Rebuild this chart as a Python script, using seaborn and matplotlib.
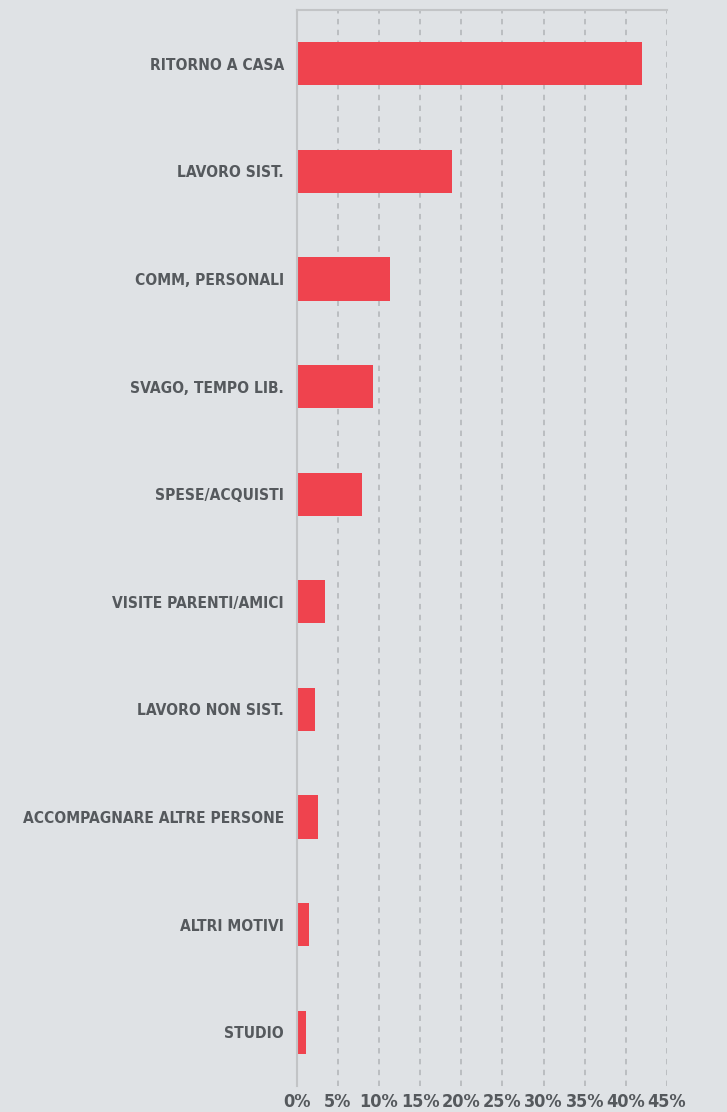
import pandas as pd
import seaborn as sns
import matplotlib.pyplot as plt
from matplotlib.ticker import FuncFormatter

motivi = ['RITORNO A CASA', 'LAVORO SIST.', 'COMM, PERSONALI', 'SVAGO, TEMPO LIB.',
          'SPESE/ACQUISTI', 'VISITE PARENTI/AMICI', 'LAVORO NON SIST.',
          'ACCOMPAGNARE ALTRE PERSONE', 'ALTRI MOTIVI', 'STUDIO']
percentuali = [41.9, 18.9, 11.4, 9.3, 8.0, 3.4, 2.2, 2.6, 1.5, 1.2]
xticks = [0, 5, 10, 15, 20, 25, 30, 35, 40, 45]

df = pd.DataFrame({'motivo': motivi, 'perc': percentuali})

bg = '#dfe2e5'
sns.set_style('white')
plt.rcParams['font.family'] = ['DejaVu Sans']
plt.rcParams['font.stretch'] = 'condensed'

fig = plt.figure(figsize=(7.27, 11.12), dpi=100, facecolor=bg)
ax = fig.add_axes([0.408, 0.0234, 0.5095, 0.9676])
ax.set_facecolor(bg)

sns.barplot(data=df, x='perc', y='motivo', orient='h', color='#ef434e',
            width=0.4, saturation=1, linewidth=0, ax=ax)

ax.set_xlim(0, 45)
ax.set_xticks(xticks)
ax.xaxis.set_major_formatter(FuncFormatter(lambda v, p: f'{v:.0f}%'))
for x in xticks[1:]:
    ax.axvline(x, color='#b8bbbe', lw=1.3, ls=(0, (3, 3)), zorder=0)

for s in ['right', 'bottom']:
    ax.spines[s].set_visible(False)
for s in ['left', 'top']:
    ax.spines[s].set_color('#c2c4c6')
    ax.spines[s].set_linewidth(1.5)

ax.tick_params(axis='y', length=0, colors='#55595d', labelsize=11.2, pad=9)
ax.tick_params(axis='x', length=0, colors='#55595d', labelsize=13, pad=5)
for lab in ax.get_xticklabels() + ax.get_yticklabels():
    lab.set_fontweight('bold')
    lab.set_fontstretch('condensed')
ax.set_xlabel('')
ax.set_ylabel('')

fig.savefig('out.png', dpi=100, facecolor=bg)
